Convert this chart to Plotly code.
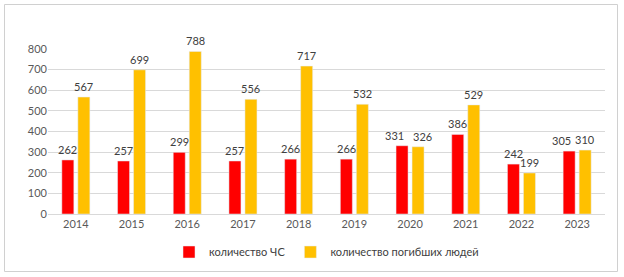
import plotly.graph_objects as go

years = ["2014", "2015", "2016", "2017", "2018", "2019", "2020", "2021", "2022", "2023"]
emergencies = [262, 257, 299, 257, 266, 266, 331, 386, 242, 305]
deaths = [567, 699, 788, 556, 717, 532, 326, 529, 199, 310]
series_names = ["количество ЧС", "количество погибших людей"]
y_ticks = [0, 100, 200, 300, 400, 500, 600, 700, 800]

W, H = 624, 277
ml, mr, mt, mb = 48, 19, 49, 63
pw = W - ml - mr
ph = H - mt - mb

fig = go.Figure()
fig.add_trace(go.Bar(x=years, y=emergencies, name=series_names[0], marker_color="#FF0000"))
fig.add_trace(go.Bar(x=years, y=deaths, name=series_names[1], marker_color="#FFC000"))

# label nudges (pixels) to keep neighbouring labels apart, as in the reference
nudge_red = {"2020": -8, "2023": -8}
nudge_yel = {"2020": 4}
annotations = []
for i, (yr, v) in enumerate(zip(years, emergencies)):
    annotations.append(dict(x=i, y=v, xref="x", yref="y", text=str(v), showarrow=False,
                            xshift=-8 + nudge_red.get(yr, 0), yshift=2, yanchor="bottom",
                            font=dict(size=11, color="#404040", family="Lato")))
for i, (yr, v) in enumerate(zip(years, deaths)):
    annotations.append(dict(x=i, y=v, xref="x", yref="y", text=str(v), showarrow=False,
                            xshift=8 + nudge_yel.get(yr, 0), yshift=2, yanchor="bottom",
                            font=dict(size=11, color="#404040", family="Lato")))

def px(x):
    return (x - ml) / pw

def py(y):
    return (H - mb - y) / ph

fig.update_layout(
    width=W, height=H,
    margin=dict(l=ml, r=mr, t=mt, b=mb, autoexpand=False),
    paper_bgcolor="white", plot_bgcolor="white",
    barmode="group", bargap=0.425, bargroupgap=0.25,
    font=dict(family="Lato", size=11, color="#595959"),
    showlegend=True,
    legend=dict(orientation="h", x=0.5, xanchor="center", y=py(252), yanchor="middle",
                font=dict(size=11, color="#404040"), itemwidth=30, tracegroupgap=0),
    xaxis=dict(type="category", range=[-0.5, len(years) - 0.5], showgrid=False,
               showline=True, linecolor="#D9D9D9", ticks="",
               tickfont=dict(size=11, color="#595959")),
    yaxis=dict(range=[0, 800], tickvals=y_ticks, showgrid=True, gridcolor="#D9D9D9",
               zeroline=False, showline=False, ticks="",
               tickfont=dict(size=11, color="#595959")),
    annotations=annotations,
    shapes=[dict(type="rect", xref="paper", yref="paper",
                 x0=px(4.5), x1=px(617.5), y0=py(271.5), y1=py(4.5),
                 line=dict(color="#D0D0D0", width=1), fillcolor="rgba(0,0,0,0)")],
)

fig.write_html("out.html", config={"displayModeBar": False},
               post_script="document.body.style.margin='0';")
